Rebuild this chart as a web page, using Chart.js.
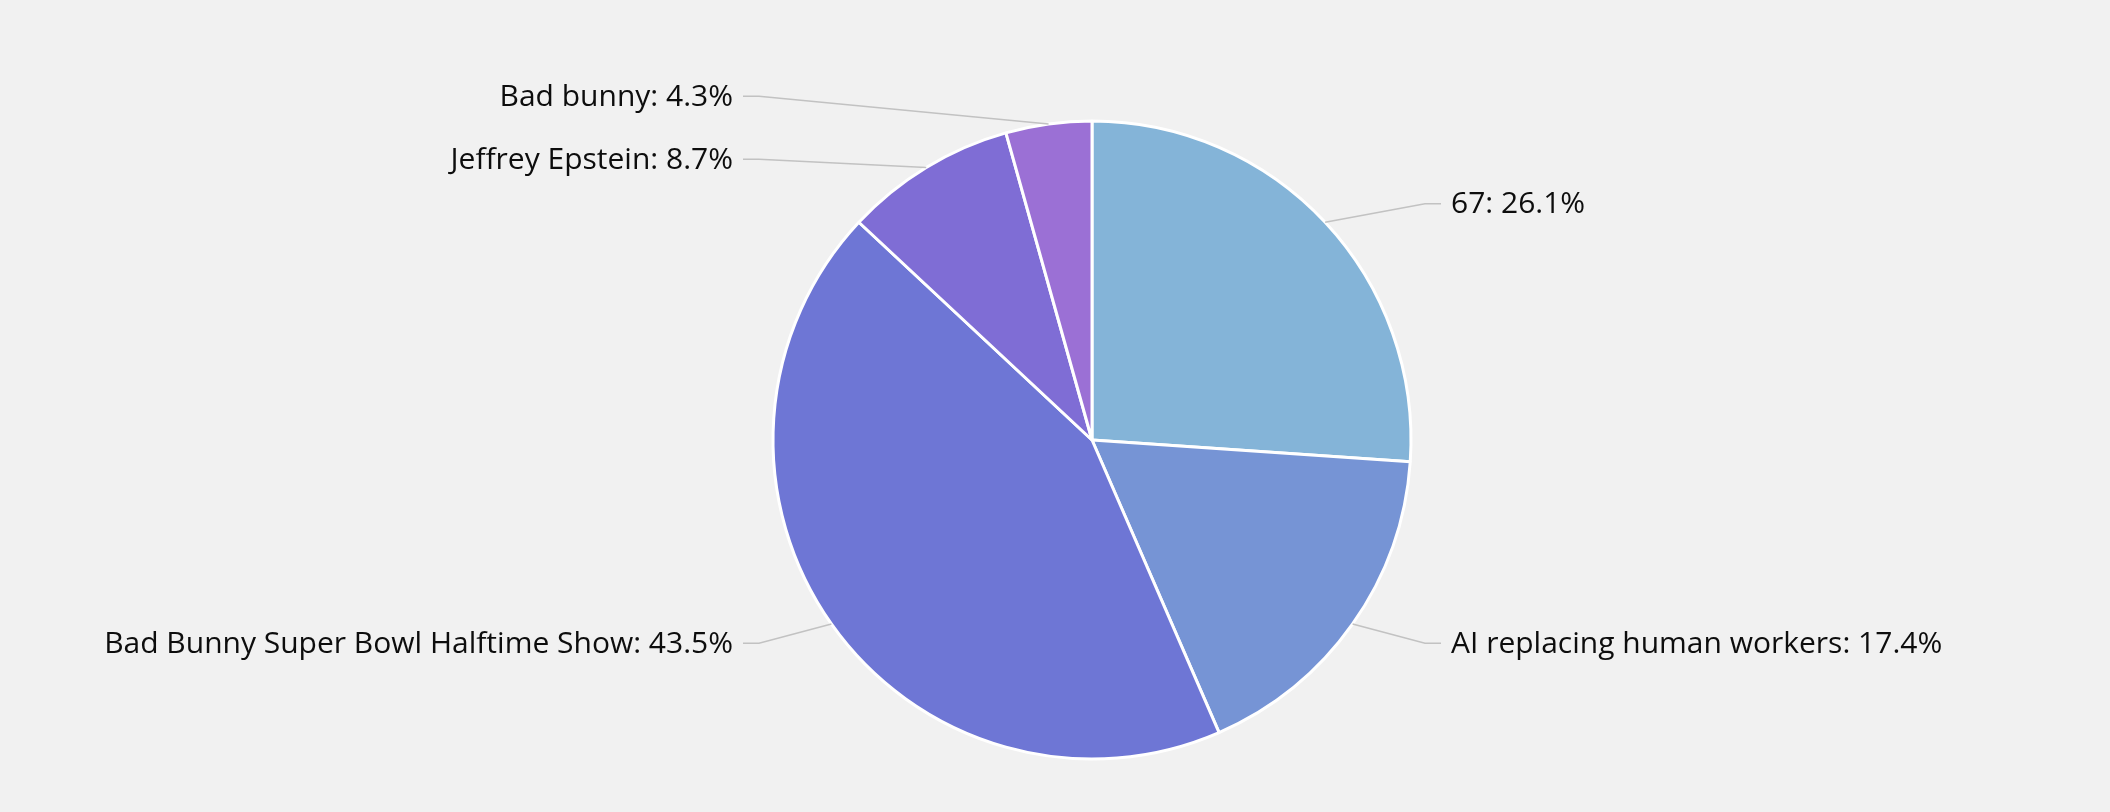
<!DOCTYPE html>
<html>
<head>
<meta charset="utf-8">
<script src="https://cdn.jsdelivr.net/npm/chart.js@4.4.1/dist/chart.umd.min.js"></script>
<style>
  html, body { margin: 0; padding: 0; background: #f1f1f1; }
  #wrap { width: 2110px; height: 812px; position: relative; }
</style>
</head>
<body>
<div id="wrap"><canvas id="pieChart"></canvas></div>
<script>
// slice data, clockwise from 12 o'clock
const categories = ["67", "AI replacing human workers", "Bad Bunny Super Bowl Halftime Show", "Jeffrey Epstein", "Bad bunny"];
const votes = [6, 4, 10, 2, 1];
const sliceColors = ["#84b4d8", "#7694d5", "#6e76d5", "#7f6dd5", "#9b70d5"];

// outside labels with elbow leader lines
const outsideLabels = {
  id: "outsideLabels",
  afterDatasetsDraw(chart) {
    const ctx = chart.ctx;
    const meta = chart.getDatasetMeta(0);
    const total = votes.reduce((a, b) => a + b, 0);
    const items = [];
    meta.data.forEach(function (arc, i) {
      const p = arc.getProps(["x", "y", "startAngle", "endAngle", "outerRadius"], true);
      const mid = (p.startAngle + p.endAngle) / 2;
      const r = p.outerRadius;
      const right = Math.cos(mid) >= 0;
      items.push({
        i: i, mid: mid, r: r, cx: p.x, cy: p.y, right: right,
        sx: p.x + Math.cos(mid) * r, sy: p.y + Math.sin(mid) * r,
        ly: p.y + Math.sin(mid) * (r + 30) + 2
      });
    });
    // keep labels on each side apart
    [true, false].forEach(function (side) {
      const list = items.filter(d => d.right === side).sort((a, b) => a.ly - b.ly);
      for (let k = 1; k < list.length; k++) {
        if (list[k].ly < list[k - 1].ly + 63) list[k].ly = list[k - 1].ly + 63;
      }
    });
    ctx.save();
    ctx.font = "30px 'Open Sans'";
    ctx.textBaseline = "middle";
    items.forEach(function (d) {
      const dir = d.right ? 1 : -1;
      const ex = d.cx + dir * (d.r + 14);
      const hx = d.cx + dir * (d.r + 30);
      ctx.strokeStyle = "#c2c2c2";
      ctx.lineWidth = 1.6;
      ctx.beginPath();
      ctx.moveTo(d.sx, d.sy);
      ctx.lineTo(ex, d.ly);
      ctx.lineTo(hx, d.ly);
      ctx.stroke();
      const pct = (votes[d.i] / total * 100).toFixed(1);
      ctx.fillStyle = "#0d0d0d";
      ctx.textAlign = d.right ? "left" : "right";
      ctx.fillText(categories[d.i] + ": " + pct + "%", d.cx + dir * (d.r + 40), d.ly + 1);
    });
    ctx.restore();
  }
};

new Chart(document.getElementById("pieChart"), {
  type: "pie",
  data: {
    labels: categories,
    datasets: [{
      data: votes,
      backgroundColor: sliceColors,
      borderColor: "#ffffff",
      borderWidth: 3
    }]
  },
  options: {
    responsive: true,
    maintainAspectRatio: false,
    animation: false,
    radius: 319,
    layout: { padding: { left: 74, top: 68, right: 0, bottom: 0 } },
    plugins: {
      legend: { display: false },
      tooltip: { enabled: false }
    }
  },
  plugins: [outsideLabels]
});
</script>
</body>
</html>
